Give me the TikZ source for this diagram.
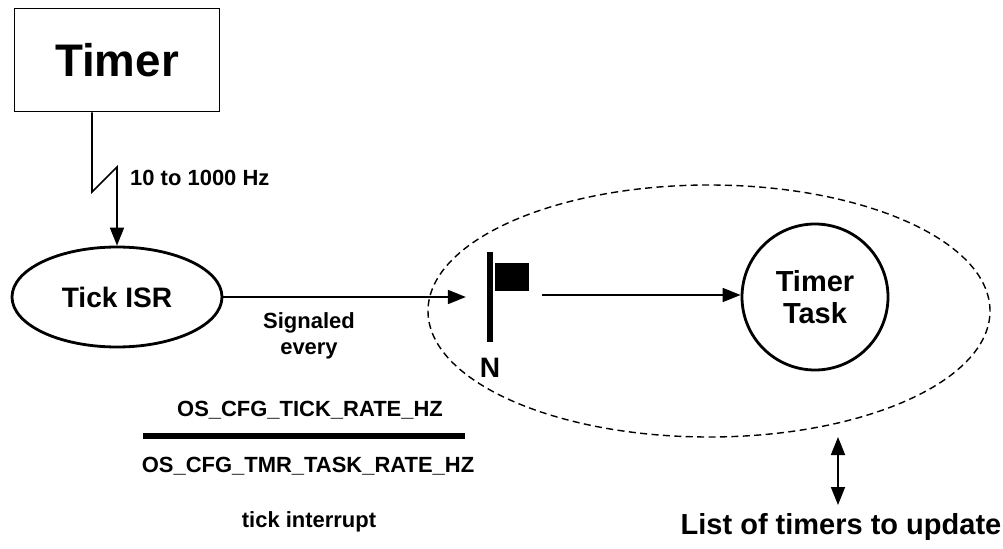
\documentclass[tikz,border=0pt]{standalone}
\usepackage{fontspec}
\setmainfont{Liberation Sans}
\usetikzlibrary{arrows.meta,positioning,shapes.geometric,calc}

\begin{document}
\begin{tikzpicture}[font=\bfseries\fontsize{12.5}{15}\selectfont,
  every path/.style={line width=1pt},
  arr/.style={-{Triangle[length=3.6mm,width=2.8mm]}}]
\useasboundingbox (0,0) rectangle (20.06,10.96);
% outer task region
\draw[dashed, dash pattern=on 4pt off 2.5pt, line width=0.8pt] (14.18,4.74) ellipse [x radius=5.62, y radius=2.52];
\node[draw, minimum width=4.1cm, minimum height=2.06cm, font=\bfseries\fontsize{26}{30}\selectfont] (timer) at (2.34,9.76) {Timer};
\node[draw, ellipse, line width=1.6pt, minimum width=4.2cm, minimum height=2.0cm, font=\bfseries\fontsize{16}{19}\selectfont] (isr) at (2.34,5.02) {Tick ISR};
\node[draw, circle, line width=1.6pt, minimum size=2.92cm, align=center, font=\bfseries\fontsize{16.5}{19}\selectfont] (task) at (16.3,5.02) {Timer\\[-1pt]Task};
% flag
\node[fill=black, inner sep=0pt, minimum width=0.13cm, minimum height=1.8cm] (pole) at (9.8,5.02) {};
\node[fill=black, inner sep=0pt, minimum width=0.68cm, minimum height=0.56cm, anchor=north west] (flag) at (pole.north east |- 0,5.72) {};
\node[below=0.18cm of pole, font=\bfseries\fontsize{16}{19}\selectfont] (n) {N};
% tick signal
\coordinate (bend1) at (1.84,7.12);
\coordinate (bend2) at (2.34,7.62);
\draw[arr] (timer.south -| bend1) -- (bend1) -- (bend2) -- (isr.north);
\node[anchor=west] (hz) at (2.47,7.4) {10 to 1000 Hz};
\draw[arr, shorten >=0.4cm] (isr.east) -- (isr.east -| pole.west);
\draw[arr] (10.84,5.06) coordinate (fl) -- (fl -| task.west);
\node[align=center] (sig) at (6.18,4.24) {Signaled\\every};
% ratio
\node (num) at (6.2,2.76) {OS\_CFG\_TICK\_RATE\_HZ};
\node (den) at (6.16,1.64) {OS\_CFG\_TMR\_TASK\_RATE\_HZ};
\draw[line width=3.4pt] (2.86,2.24) coordinate (bar) -- (9.3,2.24);
\node (tick) at (6.18,0.52) {tick interrupt};
% timer list
\node[font=\bfseries\fontsize{16.5}{19}\selectfont] (list) at (16.82,0.42) {List of timers to update};
\draw[{Triangle[length=3.6mm,width=2.8mm]}-{Triangle[length=3.6mm,width=2.8mm]}] (16.76,2.22) -- (16.76,0.86);
\end{tikzpicture}
\end{document}
